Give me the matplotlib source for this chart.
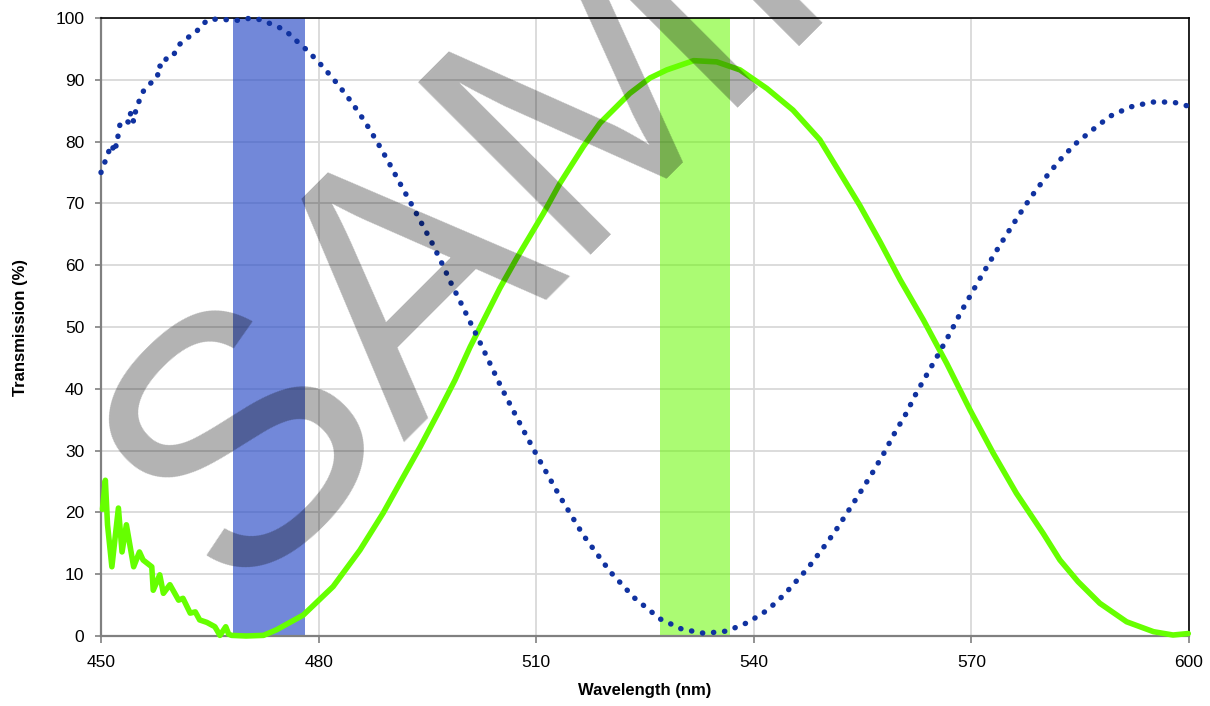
import matplotlib
matplotlib.use("Agg")
import matplotlib.pyplot as plt

# ---------------- data ----------------
blue_wl = [450.0, 450.6, 451.1, 451.5, 451.8, 452.1, 452.6, 453.4, 453.9, 454.1,
           454.5, 454.8, 455.3, 455.9, 456.8, 457.8, 457.9, 458.5, 459.1, 460.0,
           460.7, 461.8, 463.1, 463.9, 464.9, 466.3, 467.6, 469.2, 470.6, 472.1,
           473.5, 474.9, 476.2, 477.3, 478.5, 480.6, 482.7, 484.6, 486.4, 488.0,
           489.6, 491.1, 492.6, 494.1, 495.6, 497.0, 498.3, 499.7, 501.1, 502.5,
           505.2, 508.1, 510.1, 513.2, 516.5, 520.2, 523.5, 527.1, 530.1, 533.2,
           536.3, 539.2, 541.9, 544.2, 547.4, 549.4, 551.2, 552.9, 554.6, 556.3,
           557.9, 559.4, 561.0, 562.4, 564.0, 565.5, 567.1, 568.5, 571.5, 573.9,
           576.5, 578.2, 580.1, 582.1, 584.3, 586.7, 589.1, 591.9, 594.9, 597.8,
           599.4, 600.0]
blue_t = [75.0, 76.9, 78.5, 78.0, 80.0, 79.2, 82.7, 83.5, 83.0, 84.8,
          83.2, 85.1, 86.7, 88.3, 89.4, 90.5, 92.3, 92.1, 93.7, 94.0,
          95.6, 96.7, 97.7, 98.9, 99.8, 99.8, 99.7, 99.6, 100.0, 99.7,
          99.0, 98.3, 97.2, 95.9, 94.7, 92.1, 89.2, 86.3, 83.2, 80.1,
          76.8, 73.5, 70.3, 67.0, 63.7, 60.3, 57.0, 53.7, 50.3, 46.9,
          40.2, 33.6, 29.2, 22.7, 16.3, 10.4, 6.2, 2.75, 1.1, 0.43,
          0.8, 2.2, 4.2, 6.7, 10.9, 14.0, 16.9, 20.0, 23.1, 26.3,
          29.5, 32.8, 36.0, 39.3, 42.6, 45.7, 49.1, 52.3, 58.5, 63.2,
          68.0, 71.0, 74.0, 76.9, 79.6, 81.9, 84.1, 85.6, 86.4, 86.4,
          85.9, 85.7]

green_wl = [450.2, 450.6, 450.9, 451.5, 452.4, 452.9, 453.5, 454.5, 455.3, 455.8,
            457.0, 457.2, 458.1, 458.6, 459.5, 460.7, 461.3, 462.3, 463.0, 463.6,
            464.6, 465.7, 466.4, 467.2, 467.6, 468.0, 470.0, 472.4, 474.2, 477.9,
            482.0, 485.7, 488.9, 491.7, 494.0, 496.7, 498.8, 500.9, 505.0, 507.3,
            511.0, 513.3, 516.5, 518.8, 522.9, 525.7, 528.0, 531.7, 534.9, 538.1,
            541.8, 545.4, 549.1, 551.9, 554.6, 557.4, 560.2, 563.4, 566.6, 569.8,
            573.0, 576.2, 579.9, 582.2, 584.7, 587.7, 591.4, 595.1, 597.8, 599.9]
green_t = [20.5, 25.2, 18.0, 11.2, 20.7, 13.6, 18.0, 11.2, 13.6, 12.3,
           11.2, 7.4, 9.9, 6.9, 8.3, 5.8, 6.1, 3.7, 3.9, 2.6,
           2.2, 1.5, 0.1, 1.5, 0.3, 0.1, 0.0, 0.1, 1.0, 3.4,
           8.0, 13.9, 19.9, 25.8, 30.6, 36.6, 41.4, 46.8, 56.3, 61.1,
           68.4, 73.3, 79.2, 83.0, 87.8, 90.3, 91.6, 93.1, 92.9, 91.6,
           88.6, 85.1, 80.3, 74.9, 69.7, 63.8, 57.6, 51.1, 44.1, 36.6,
           29.6, 23.1, 16.6, 12.3, 8.8, 5.3, 2.3, 0.7, 0.16, 0.4]

blue_band = (468.2, 478.1)
green_band = (527.1, 536.7)

x_ticks = [450, 480, 510, 540, 570, 600]
y_ticks = [0, 10, 20, 30, 40, 50, 60, 70, 80, 90, 100]
x_label = "Wavelength (nm)"
y_label = "Transmission (%)"
watermark = "SAMPLE"

# ---------------- figure ----------------
plt.rcParams['font.family'] = ['Liberation Sans', 'DejaVu Sans']
W, H = 1210, 706
fig = plt.figure(figsize=(W / 100, H / 100), dpi=100)
ax = fig.add_axes([101 / W, (H - 636) / H, (1189 - 101) / W, (636 - 18) / H])

ax.set_xlim(450, 600)
ax.set_ylim(0, 100)
ax.set_xticks(x_ticks)
ax.set_yticks(y_ticks)
ax.grid(True, color='#D9D9D9', lw=1.3, zorder=0)
ax.set_axisbelow(True)

ax.axvspan(*blue_band, facecolor='#2F50C8', alpha=0.68, lw=0, zorder=1)
ax.axvspan(*green_band, facecolor='#66F800', alpha=0.55, lw=0, zorder=1)

ax.plot(green_wl, green_t, color='#66FF00', lw=4.0, solid_joinstyle='round',
        solid_capstyle='round', zorder=3, clip_on=False)
ax.plot(blue_wl, blue_t, color='#1032A0', lw=3.9, linestyle=(0, (0.05, 2.0)),
        dash_capstyle='round', zorder=4, clip_on=False)

for s in ['left', 'bottom']:
    ax.spines[s].set_color('#808080')
    ax.spines[s].set_linewidth(1.6)
for s in ['top', 'right']:
    ax.spines[s].set_color('#000000')
    ax.spines[s].set_linewidth(1.2)

ax.tick_params(axis='x', direction='out', length=5, width=1.2, color='#808080',
               labelsize=12.5, pad=9)
ax.tick_params(axis='y', direction='out', length=4, width=1.2, color='#808080',
               labelsize=12.5, pad=8)
ax.set_xlabel(x_label, fontsize=12, fontweight='bold', labelpad=9)
ax.set_ylabel(y_label, fontsize=12, fontweight='bold', labelpad=20)

fig.text(233 / W, (H - 597) / H, watermark, fontsize=255, color='black',
         alpha=0.3, rotation=45, rotation_mode='anchor', ha='left',
         va='baseline', zorder=10)

fig.savefig('out.png', dpi=100)
